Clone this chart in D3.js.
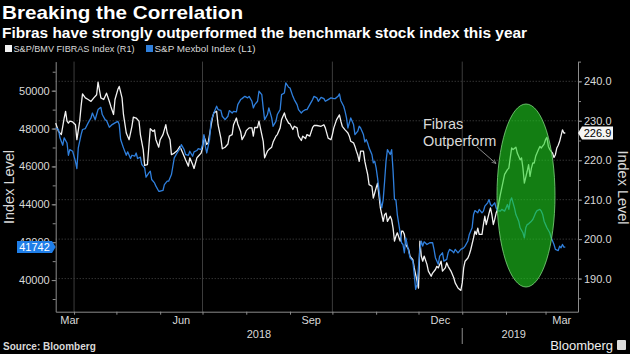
<!DOCTYPE html>
<html><head><meta charset="utf-8">
<script src="https://cdn.jsdelivr.net/npm/d3@7"></script>
<style>
html,body{margin:0;padding:0;background:#000;}
svg{display:block;}
</style></head><body>
<svg id="chart" width="630" height="354"></svg>
<script>
const title = "Breaking the Correlation";
const subtitle = "Fibras have strongly outperformed the benchmark stock index this year";
const legendLabels = ["S&P/BMV FIBRAS Index (R1)", "S&P Mexbol Index (L1)"];
const leftTicks = [40000, 42000, 44000, 46000, 48000, 50000];
const rightTicks = [190, 200, 210, 220, 230, 240];
const monthLabels = [["2018-03-01","Mar"],["2018-06-01","Jun"],["2018-09-01","Sep"],["2018-12-01","Dec"],["2019-03-01","Mar"]];
const yearLabels = [["2018-01-01","2018"],["2019-01-01","2019"]];
const annotation = ["Fibras", "Outperform"];
const lastFibras = "226.9";
const lastMexbol = "41742";

const fibras = [
["2018-03-19",229.4],["2018-03-21",227.3],["2018-03-23",226.5],["2018-03-25",230.7],["2018-03-26",232.4],["2018-03-27",229.9],["2018-03-28",229.4],["2018-03-29",229.9],["2018-03-31",229.7],
["2018-04-02",229.0],["2018-04-03",225.2],["2018-04-05",229.9],["2018-04-06",233.7],["2018-04-07",236.8],["2018-04-09",235.8],["2018-04-11",235.4],["2018-04-13",234.9],["2018-04-15",235.8],["2018-04-17",236.6],["2018-04-18",239.8],["2018-04-20",235.8],["2018-04-22",235.4],["2018-04-24",237.0],["2018-04-26",234.9],["2018-04-27",233.7],["2018-04-29",231.6],["2018-04-30",235.4],
["2018-05-02",237.9],["2018-05-03",238.7],["2018-05-05",235.8],["2018-05-06",231.6],["2018-05-08",226.9],["2018-05-10",225.2],["2018-05-12",228.6],["2018-05-13",230.9],["2018-05-15",230.7],["2018-05-17",229.9],["2018-05-18",226.5],["2018-05-20",222.7],["2018-05-21",218.7],["2018-05-23",218.9],["2018-05-24",223.5],["2018-05-25",228.0],["2018-05-27",227.3],["2018-05-28",227.7],["2018-05-29",225.2],["2018-05-31",223.3],
["2018-06-01",225.2],["2018-06-03",226.5],["2018-06-05",229.0],["2018-06-06",226.9],["2018-06-08",225.2],["2018-06-09",221.4],["2018-06-11",221.8],["2018-06-13",222.4],["2018-06-15",223.5],["2018-06-17",221.8],["2018-06-19",220.1],["2018-06-21",218.5],["2018-06-22",220.6],["2018-06-24",218.9],["2018-06-25",217.9],["2018-06-27",220.6],["2018-06-28",221.0],["2018-06-30",221.8],
["2018-07-01",223.1],["2018-07-02",226.1],["2018-07-04",224.0],["2018-07-05",224.4],["2018-07-06",226.5],["2018-07-08",230.7],["2018-07-09",232.0],["2018-07-11",232.4],["2018-07-12",229.0],["2018-07-14",225.6],["2018-07-15",222.9],["2018-07-17",223.3],["2018-07-19",224.1],["2018-07-20",226.1],["2018-07-22",226.5],["2018-07-23",229.0],["2018-07-25",230.7],["2018-07-26",229.2],["2018-07-28",227.3],["2018-07-29",225.2],["2018-07-31",226.5],
["2018-08-01",227.5],["2018-08-03",228.2],["2018-08-05",228.2],["2018-08-06",226.1],["2018-08-07",228.3],["2018-08-09",228.3],["2018-08-10",229.9],["2018-08-12",226.5],["2018-08-13",224.8],["2018-08-14",220.6],["2018-08-16",222.3],["2018-08-17",222.7],["2018-08-19",223.3],["2018-08-20",224.6],["2018-08-22",226.1],["2018-08-23",226.5],["2018-08-25",228.2],["2018-08-26",230.3],["2018-08-28",232.0],["2018-08-29",230.7],["2018-08-31",229.4],
["2018-09-01",229.2],["2018-09-03",227.8],["2018-09-04",228.6],["2018-09-06",228.2],["2018-09-07",226.1],["2018-09-09",225.0],["2018-09-10",226.1],["2018-09-12",225.5],["2018-09-13",226.5],["2018-09-15",226.1],["2018-09-17",228.3],["2018-09-18",228.8],["2018-09-20",228.8],["2018-09-23",228.6],["2018-09-25",229.0],["2018-09-26",228.2],["2018-09-28",225.6],["2018-09-30",225.2],
["2018-10-01",226.5],["2018-10-02",228.2],["2018-10-04",230.3],["2018-10-06",231.5],["2018-10-07",229.9],["2018-10-08",228.6],["2018-10-10",227.7],["2018-10-11",227.3],["2018-10-12",226.9],["2018-10-13",226.1],["2018-10-14",224.8],["2018-10-16",224.4],["2018-10-17",223.5],["2018-10-18",222.3],["2018-10-19",221.3],["2018-10-20",219.7],["2018-10-21",222.3],["2018-10-23",222.3],["2018-10-24",219.7],["2018-10-25",218.0],["2018-10-26",216.4],["2018-10-27",213.8],["2018-10-29",213.4],["2018-10-30",210.4],["2018-10-31",211.7],
["2018-11-01",213.0],["2018-11-02",214.2],["2018-11-04",207.9],["2018-11-05",206.2],["2018-11-06",204.5],["2018-11-07",206.2],["2018-11-08",206.6],["2018-11-09",204.5],["2018-11-11",205.8],["2018-11-12",204.9],["2018-11-13",202.8],["2018-11-14",199.5],["2018-11-15",200.7],["2018-11-16",201.6],["2018-11-18",199.5],["2018-11-19",202.0],["2018-11-20",202.0],["2018-11-21",201.2],["2018-11-22",198.6],["2018-11-24",197.4],["2018-11-25",195.7],["2018-11-26",195.2],["2018-11-27",194.8],["2018-11-28",192.7],["2018-11-30",189.3],
["2018-12-01",187.6],["2018-12-02",199.5],["2018-12-03",195.7],["2018-12-04",194.4],["2018-12-05",195.7],["2018-12-07",193.6],["2018-12-08",191.9],["2018-12-10",190.6],["2018-12-11",191.4],["2018-12-13",192.3],["2018-12-14",193.1],["2018-12-15",192.7],["2018-12-17",194.4],["2018-12-18",191.9],["2018-12-20",192.7],["2018-12-21",194.0],["2018-12-22",193.1],["2018-12-24",191.9],["2018-12-26",190.2],["2018-12-27",188.9],["2018-12-29",187.6],["2018-12-31",187.0],
["2019-01-01",188.9],["2019-01-02",192.7],["2019-01-03",194.4],["2019-01-05",195.2],["2019-01-06",196.1],["2019-01-07",197.3],["2019-01-09",200.3],["2019-01-10",202.0],["2019-01-11",201.2],["2019-01-12",202.8],["2019-01-13",201.2],["2019-01-15",201.2],["2019-01-16",203.7],["2019-01-17",205.8],["2019-01-18",203.7],["2019-01-20",206.6],["2019-01-21",207.9],["2019-01-22",206.2],["2019-01-23",203.7],["2019-01-24",205.0],["2019-01-25",206.6],["2019-01-26",207.5],["2019-01-28",211.3],["2019-01-29",213.0],["2019-01-30",214.7],["2019-01-31",216.4],
["2019-02-02",217.6],["2019-02-03",218.0],["2019-02-04",220.6],["2019-02-05",223.1],["2019-02-06",222.7],["2019-02-08",223.3],["2019-02-09",221.8],["2019-02-10",221.0],["2019-02-11",220.1],["2019-02-12",220.6],["2019-02-13",218.0],["2019-02-14",214.2],["2019-02-16",217.2],["2019-02-17",218.9],["2019-02-18",215.9],["2019-02-19",218.0],["2019-02-20",219.3],["2019-02-21",219.3],["2019-02-22",221.0],["2019-02-24",222.7],["2019-02-25",223.5],["2019-02-26",223.1],["2019-02-28",224.1],
["2019-03-01",225.2],["2019-03-02",225.8],["2019-03-03",223.5],["2019-03-04",222.7],["2019-03-06",221.8],["2019-03-07",220.7],["2019-03-08",221.4],["2019-03-09",223.1],["2019-03-10",223.8],["2019-03-11",224.8],["2019-03-13",227.7],["2019-03-14",226.9],["2019-03-15",226.9]
];

const mexbol = [
["2018-03-19",48030],["2018-03-21",47950],["2018-03-22",47510],["2018-03-24",47120],["2018-03-25",47510],["2018-03-27",47240],["2018-03-28",46590],["2018-03-29",46890],["2018-03-31",46800],
["2018-04-02",46270],["2018-04-03",45890],["2018-04-04",46980],["2018-04-06",47680],["2018-04-07",47950],["2018-04-09",48000],["2018-04-11",48300],["2018-04-13",48560],["2018-04-14",48820],["2018-04-16",48470],["2018-04-17",48740],["2018-04-18",49000],["2018-04-20",49120],["2018-04-21",48740],["2018-04-23",48470],["2018-04-24",48420],["2018-04-26",48070],["2018-04-28",48210],["2018-04-30",48300],
["2018-05-02",48380],["2018-05-03",48210],["2018-05-04",47420],["2018-05-06",46980],["2018-05-08",46590],["2018-05-09",46770],["2018-05-11",46420],["2018-05-12",46590],["2018-05-14",46540],["2018-05-15",46710],["2018-05-16",46420],["2018-05-18",46490],["2018-05-19",46100],["2018-05-21",45920],["2018-05-22",45430],["2018-05-24",45660],["2018-05-25",45750],["2018-05-26",45310],["2018-05-28",45130],["2018-05-29",44960],["2018-05-31",44690],
["2018-06-01",44690],["2018-06-03",44730],["2018-06-04",45040],["2018-06-06",45220],["2018-06-07",45220],["2018-06-09",45570],["2018-06-10",46010],["2018-06-11",46450],["2018-06-13",46710],["2018-06-15",46940],["2018-06-16",47150],["2018-06-18",46890],["2018-06-19",46630],["2018-06-21",46590],["2018-06-22",46800],["2018-06-24",46540],["2018-06-25",46770],["2018-06-27",46840],["2018-06-28",46940],["2018-06-30",46890],
["2018-07-01",47150],["2018-07-02",47680],["2018-07-03",47070],["2018-07-04",46710],["2018-07-06",47420],["2018-07-07",48380],["2018-07-09",48820],["2018-07-11",49180],["2018-07-12",49000],["2018-07-14",48960],["2018-07-15",48650],["2018-07-17",48470],["2018-07-19",48650],["2018-07-20",48950],["2018-07-22",48820],["2018-07-23",48910],["2018-07-25",48880],["2018-07-26",49260],["2018-07-28",49530],["2018-07-29",49580],["2018-07-31",49700],
["2018-08-02",49620],["2018-08-03",49700],["2018-08-05",49440],["2018-08-06",49090],["2018-08-07",49260],["2018-08-09",49440],["2018-08-10",49970],["2018-08-12",49790],["2018-08-13",49090],["2018-08-14",48470],["2018-08-16",48740],["2018-08-17",49090],["2018-08-19",48560],["2018-08-20",48120],["2018-08-22",48380],["2018-08-23",48740],["2018-08-25",49000],["2018-08-26",49790],["2018-08-28",49880],["2018-08-29",50410],["2018-08-31",50180],
["2018-09-01",50140],["2018-09-03",49700],["2018-09-04",49530],["2018-09-06",49260],["2018-09-07",49000],["2018-09-09",48820],["2018-09-10",48910],["2018-09-12",49000],["2018-09-13",49000],["2018-09-15",49260],["2018-09-17",49530],["2018-09-18",49700],["2018-09-20",49620],["2018-09-21",49440],["2018-09-23",49650],["2018-09-25",49580],["2018-09-26",49440],["2018-09-28",49530],["2018-09-30",49620],
["2018-10-02",49580],["2018-10-03",49580],["2018-10-05",49700],["2018-10-06",49830],["2018-10-07",49470],["2018-10-09",49180],["2018-10-10",48910],["2018-10-11",48560],["2018-10-12",48030],["2018-10-13",48300],["2018-10-14",48560],["2018-10-16",48210],["2018-10-17",47680],["2018-10-19",47860],["2018-10-20",48120],["2018-10-21",48030],["2018-10-23",47680],["2018-10-24",47290],["2018-10-25",47420],["2018-10-26",47240],["2018-10-27",46980],["2018-10-29",46630],["2018-10-30",46190],["2018-10-31",46270],
["2018-11-01",45920],["2018-11-02",45400],["2018-11-04",44170],["2018-11-05",43810],["2018-11-06",44250],["2018-11-07",45220],["2018-11-08",46270],["2018-11-09",46890],["2018-11-11",46630],["2018-11-12",46890],["2018-11-13",45750],["2018-11-14",44250],["2018-11-15",44250],["2018-11-16",43460],["2018-11-18",42500],["2018-11-19",41970],["2018-11-20",41880],["2018-11-21",41440],["2018-11-22",42230],["2018-11-24",41530],["2018-11-25",41180],["2018-11-26",41090],["2018-11-27",41000],["2018-11-28",40300],["2018-11-29",39510],["2018-11-30",39770],
["2018-12-02",41620],["2018-12-03",42060],["2018-12-04",41790],["2018-12-05",42020],["2018-12-07",41880],["2018-12-09",41970],["2018-12-11",41970],["2018-12-12",41620],["2018-12-13",41180],["2018-12-15",40830],["2018-12-16",41260],["2018-12-18",41440],["2018-12-19",41000],["2018-12-21",41090],["2018-12-22",41440],["2018-12-23",41620],["2018-12-25",41530],["2018-12-26",41440],["2018-12-27",41620],["2018-12-29",41440],["2018-12-30",41530],["2018-12-31",41620],
["2019-01-02",41700],["2019-01-03",41790],["2019-01-05",42060],["2019-01-06",42410],["2019-01-08",42760],["2019-01-09",43460],["2019-01-10",43670],["2019-01-12",43550],["2019-01-13",43730],["2019-01-15",43550],["2019-01-16",43640],["2019-01-17",43900],["2019-01-19",44080],["2019-01-20",44250],["2019-01-21",43990],["2019-01-22",43900],["2019-01-24",44080],["2019-01-25",43810],["2019-01-26",43670],["2019-01-28",43640],["2019-01-29",43730],["2019-01-31",43640],
["2019-02-01",43810],["2019-02-02",43990],["2019-02-03",43730],["2019-02-04",44170],["2019-02-05",44340],["2019-02-07",43810],["2019-02-08",43460],["2019-02-09",43290],["2019-02-10",43110],["2019-02-11",42760],["2019-02-13",42500],["2019-02-14",42230],["2019-02-15",42760],["2019-02-16",42930],["2019-02-17",42970],["2019-02-19",43110],["2019-02-20",43200],["2019-02-21",43370],["2019-02-22",43550],["2019-02-23",43670],["2019-02-25",43730],["2019-02-26",43640],["2019-02-27",43460],["2019-02-28",43110],
["2019-03-01",42930],["2019-03-02",42760],["2019-03-04",42500],["2019-03-05",42230],["2019-03-06",42060],["2019-03-07",41880],["2019-03-08",41620],["2019-03-10",41560],["2019-03-11",41790],["2019-03-12",41700],["2019-03-13",41880],["2019-03-14",41740],["2019-03-15",41742]
];

// ---------- rendering ----------
const parse = d3.utcParse("%Y-%m-%d");
const svg = d3.select("#chart");
const W = 630, H = 354;
const L = 55.7, R = 578, T = 61.6, B = 311.7;
const FONT = "'Liberation Sans', Arial, sans-serif";
const WHITE = "#f2f2f2", BLUE = "#2f7fdc", AXIS = "#8c8c8c", GRID = "#4a4a4a", TXT = "#d9d9d9";

svg.append("rect").attr("width", W).attr("height", H).attr("fill", "#000");

const x = d3.scaleUtc().domain([parse("2018-03-19"), parse("2019-03-24")]).range([L, R]);
const yL = d3.scaleLinear().domain([38330, 51535]).range([B, T]);
const yR = d3.scaleLinear().domain([181.6, 245]).range([B, T]);

// titles
svg.append("text").attr("x", 2).attr("y", 19).text(title)
  .attr("font-family", FONT).attr("font-weight", "bold").attr("font-size", 19)
  .attr("fill", "#fff").attr("textLength", 241).attr("lengthAdjust", "spacingAndGlyphs");
svg.append("text").attr("x", 2).attr("y", 38).text(subtitle)
  .attr("font-family", FONT).attr("font-weight", "bold").attr("font-size", 14.5)
  .attr("fill", "#fff").attr("textLength", 525).attr("lengthAdjust", "spacingAndGlyphs");

// legend
const legend = svg.append("g").attr("font-family", FONT).attr("font-size", 9.5).attr("fill", TXT);
const legX = [5, 146], legW = [121, 101], legColors = [WHITE, BLUE];
legendLabels.forEach((t, i) => {
  legend.append("rect").attr("x", legX[i]).attr("y", 45).attr("width", 7).attr("height", 7).attr("fill", legColors[i]);
  legend.append("text").attr("x", legX[i] + 8.5).attr("y", 52).text(t)
    .attr("textLength", legW[i]).attr("lengthAdjust", "spacingAndGlyphs");
});

// gridlines (horizontal from right axis, vertical at quarter starts)
const grid = svg.append("g");
grid.selectAll("line.h").data(rightTicks).join("line")
  .attr("x1", L).attr("x2", R).attr("y1", d => yR(d)).attr("y2", d => yR(d))
  .attr("stroke", GRID).attr("stroke-width", 1).attr("stroke-dasharray", "1,2");
const monthStarts = d3.utcMonth.range(x.domain()[0], x.domain()[1]);
const quarterStarts = monthStarts.filter(d => d.getUTCMonth() % 3 === 0);
grid.selectAll("line.v").data(quarterStarts).join("line")
  .attr("x1", d => x(d)).attr("x2", d => x(d)).attr("y1", T).attr("y2", B)
  .attr("stroke", "#3c3c3c").attr("stroke-width", 1);

// axes
function styleAxis(g) {
  g.selectAll("path").attr("stroke", AXIS);
  g.selectAll("line").attr("stroke", AXIS);
  g.selectAll("text").attr("fill", TXT).attr("font-family", FONT).attr("font-size", 11);
}
svg.append("g").attr("transform", `translate(${L},0)`)
  .call(d3.axisLeft(yL).tickValues(d3.range(39000, 51001, 1000)).tickSize(3).tickSizeOuter(0).tickFormat(""))
  .call(styleAxis);
svg.append("g").attr("transform", `translate(${L},0)`)
  .call(d3.axisLeft(yL).tickValues(leftTicks).tickSize(4).tickPadding(2).tickSizeOuter(0).tickFormat(d3.format("d")))
  .call(styleAxis).select("path").remove();
svg.append("g").attr("transform", `translate(${R},0)`)
  .call(d3.axisRight(yR).tickValues(d3.range(185, 246, 5)).tickSize(3).tickSizeOuter(0).tickFormat(""))
  .call(styleAxis);
svg.append("g").attr("transform", `translate(${R},0)`)
  .call(d3.axisRight(yR).tickValues(rightTicks).tickSize(4).tickPadding(2).tickSizeOuter(0).tickFormat(d3.format(".1f")))
  .call(styleAxis).select("path").remove();
svg.append("g").attr("transform", `translate(0,${B})`)
  .call(d3.axisBottom(x).tickValues(monthStarts).tickSize(3).tickSizeOuter(0).tickFormat(""))
  .call(styleAxis);

// month and year labels, centered on the visible part of each period, clamped
const lab = svg.append("g").attr("font-family", FONT).attr("font-size", 11).attr("fill", TXT).attr("text-anchor", "middle");
monthLabels.forEach(([d, t]) => {
  const s = parse(d), e = d3.utcMonth.offset(s, 1);
  let cx = (x(d3.max([s, x.domain()[0]])) + x(d3.min([e, x.domain()[1]]))) / 2;
  cx = Math.max(L + 14, Math.min(R - 14, cx));
  lab.append("text").attr("x", cx).attr("y", 324).text(t);
});
const dataEnd = parse(fibras[fibras.length - 1][0]);
yearLabels.forEach(([d, t]) => {
  const s = parse(d), e = d3.utcYear.offset(s, 1);
  const cx = (x(d3.max([s, x.domain()[0]])) + x(d3.min([e, dataEnd]))) / 2;
  lab.append("text").attr("x", cx).attr("y", 337.5).text(t);
});
svg.append("line").attr("x1", x(parse("2019-01-01"))).attr("x2", x(parse("2019-01-01")))
  .attr("y1", 328).attr("y2", 344).attr("stroke", AXIS);

// axis titles
svg.append("text").attr("transform", "translate(14,187) rotate(-90)").attr("text-anchor", "middle")
  .attr("font-family", FONT).attr("font-size", 14.5).attr("fill", TXT).text("Index Level");
svg.append("text").attr("transform", "translate(617.5,187.5) rotate(90)").attr("text-anchor", "middle")
  .attr("font-family", FONT).attr("font-size", 14.5).attr("fill", TXT).text("Index Level");

// lines
const lineR = d3.line().x(d => x(parse(d[0]))).y(d => yR(d[1]));
const lineL = d3.line().x(d => x(parse(d[0]))).y(d => yL(d[1]));
svg.append("path").datum(fibras).attr("d", lineR).attr("fill", "none").attr("stroke", WHITE).attr("stroke-width", 1.3).attr("stroke-linejoin", "round");
svg.append("path").datum(mexbol).attr("d", lineL).attr("fill", "none").attr("stroke", BLUE).attr("stroke-width", 1.3).attr("stroke-linejoin", "round");

// highlight ellipse
svg.append("ellipse").attr("cx", 526).attr("cy", 195.5).attr("rx", 29).attr("ry", 91.5)
  .attr("fill", "#1fd21f").attr("fill-opacity", 0.6).attr("stroke", "#7fd87f").attr("stroke-width", 0.8);

// annotation
const ann = svg.append("g").attr("font-family", FONT).attr("font-size", 14.5).attr("fill", TXT);
ann.append("text").attr("x", 423).attr("y", 129).text(annotation[0]);
ann.append("text").attr("x", 423).attr("y", 145.5).text(annotation[1]);
svg.append("defs").append("marker").attr("id", "arr").attr("viewBox", "0 0 10 10")
  .attr("refX", 9).attr("refY", 5).attr("markerWidth", 6).attr("markerHeight", 6).attr("orient", "auto")
  .append("path").attr("d", "M0,1 L9,5 L0,9").attr("fill", "none").attr("stroke", "#aaa").attr("stroke-width", 1.2);
svg.append("line").attr("x1", 477).attr("y1", 147).attr("x2", 496).attr("y2", 163.5)
  .attr("stroke", "#aaa").attr("stroke-width", 0.8).attr("marker-end", "url(#arr)");

// last value tags
const yl = yL(+lastMexbol);
svg.append("path").attr("d", `M17,${yl-6} L52,${yl-6} L${L},${yl} L52,${yl+6} L17,${yl+6} Z`).attr("fill", "#1f7ee8");
svg.append("text").attr("x", 34.5).attr("y", yl + 4).attr("text-anchor", "middle").attr("font-family", FONT)
  .attr("font-size", 11).attr("fill", "#fff").text(lastMexbol);
const yr = yR(+lastFibras);
svg.append("path").attr("d", `M${R},${yr} L582,${yr-6.5} L613,${yr-6.5} L613,${yr+6.5} L582,${yr+6.5} Z`).attr("fill", "#f5f5f5");
svg.append("text").attr("x", 597.5).attr("y", yr + 4).attr("text-anchor", "middle").attr("font-family", FONT)
  .attr("font-size", 11).attr("fill", "#000").text(lastFibras);

// footer
svg.append("text").attr("x", 3).attr("y", 350).attr("font-family", FONT).attr("font-weight", "bold")
  .attr("font-size", 10).attr("fill", TXT).text("Source: Bloomberg");
svg.append("text").attr("x", 613).attr("y", 350).attr("text-anchor", "end").attr("font-family", FONT)
  .attr("font-size", 13).attr("fill", "#eee").text("Bloomberg");
svg.append("rect").attr("x", 617).attr("y", 340).attr("width", 9).attr("height", 10).attr("rx", 1).attr("fill", "#ddd");
</script>
</body></html>
